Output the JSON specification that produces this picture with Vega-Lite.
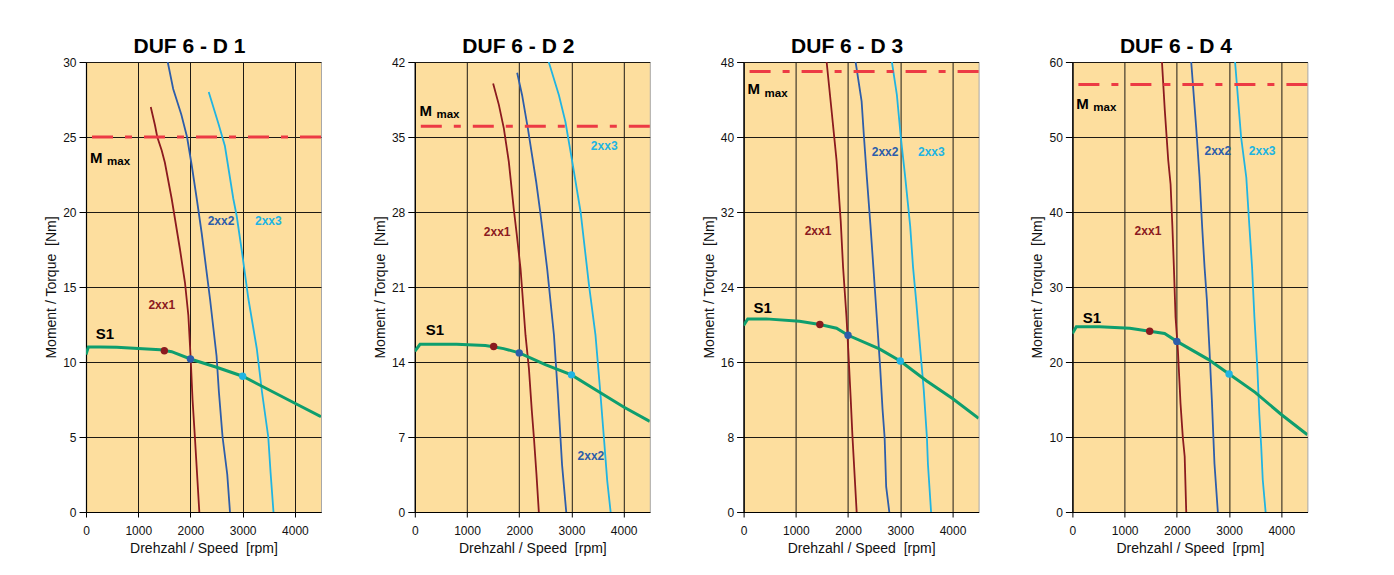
{
  "$schema": "https://vega.github.io/schema/vega-lite/v6.json",
  "padding": {"left": 44, "top": 35, "right": 10, "bottom": 10},
  "background": "white",
  "spacing": 49.8,
  "datasets": {
    "curves": [
      {"panel":"D1","series":"2xx1","rpm":1240,"torque":27},{"panel":"D1","series":"2xx1","rpm":1320,"torque":25.8},{"panel":"D1","series":"2xx1","rpm":1365,"torque":25},{"panel":"D1","series":"2xx1","rpm":1450,"torque":24.1},{"panel":"D1","series":"2xx1","rpm":1510,"torque":23.3},{"panel":"D1","series":"2xx1","rpm":1640,"torque":20.9},{"panel":"D1","series":"2xx1","rpm":1800,"torque":17.5},{"panel":"D1","series":"2xx1","rpm":1895,"torque":15.3},{"panel":"D1","series":"2xx1","rpm":1960,"torque":13.1},{"panel":"D1","series":"2xx1","rpm":2005,"torque":10.2},{"panel":"D1","series":"2xx1","rpm":2040,"torque":7.5},{"panel":"D1","series":"2xx1","rpm":2085,"torque":5},{"panel":"D1","series":"2xx1","rpm":2170,"torque":0},
      {"panel":"D1","series":"2xx2","rpm":1565,"torque":30},{"panel":"D1","series":"2xx2","rpm":1670,"torque":28.2},{"panel":"D1","series":"2xx2","rpm":1825,"torque":26.5},{"panel":"D1","series":"2xx2","rpm":1935,"torque":25},{"panel":"D1","series":"2xx2","rpm":2025,"torque":23.1},{"panel":"D1","series":"2xx2","rpm":2120,"torque":20.9},{"panel":"D1","series":"2xx2","rpm":2215,"torque":18.6},{"panel":"D1","series":"2xx2","rpm":2375,"torque":14.2},{"panel":"D1","series":"2xx2","rpm":2500,"torque":10.4},{"panel":"D1","series":"2xx2","rpm":2545,"torque":8},{"panel":"D1","series":"2xx2","rpm":2615,"torque":5},{"panel":"D1","series":"2xx2","rpm":2705,"torque":2.5},{"panel":"D1","series":"2xx2","rpm":2757,"torque":0},
      {"panel":"D1","series":"2xx3","rpm":2350,"torque":28},{"panel":"D1","series":"2xx3","rpm":2535,"torque":25.9},{"panel":"D1","series":"2xx3","rpm":2660,"torque":24.4},{"panel":"D1","series":"2xx3","rpm":2820,"torque":20.9},{"panel":"D1","series":"2xx3","rpm":2885,"torque":19.75},{"panel":"D1","series":"2xx3","rpm":2980,"torque":17.5},{"panel":"D1","series":"2xx3","rpm":3110,"torque":14.2},{"panel":"D1","series":"2xx3","rpm":3270,"torque":10.9},{"panel":"D1","series":"2xx3","rpm":3370,"torque":8},{"panel":"D1","series":"2xx3","rpm":3490,"torque":5},{"panel":"D1","series":"2xx3","rpm":3535,"torque":2.6},{"panel":"D1","series":"2xx3","rpm":3590,"torque":0},
      {"panel":"D1","series":"S1","rpm":0,"torque":10.5},{"panel":"D1","series":"S1","rpm":45,"torque":11},{"panel":"D1","series":"S1","rpm":270,"torque":11},{"panel":"D1","series":"S1","rpm":590,"torque":10.98},{"panel":"D1","series":"S1","rpm":1000,"torque":10.9},{"panel":"D1","series":"S1","rpm":1420,"torque":10.82},{"panel":"D1","series":"S1","rpm":1640,"torque":10.69},{"panel":"D1","series":"S1","rpm":2000,"torque":10.2},{"panel":"D1","series":"S1","rpm":2500,"torque":9.65},{"panel":"D1","series":"S1","rpm":3000,"torque":9.05},{"panel":"D1","series":"S1","rpm":3500,"torque":8.15},{"panel":"D1","series":"S1","rpm":4000,"torque":7.25},{"panel":"D1","series":"S1","rpm":4500,"torque":6.35},
      {"panel":"D2","series":"2xx1","rpm":1500,"torque":40},{"panel":"D2","series":"2xx1","rpm":1610,"torque":38},{"panel":"D2","series":"2xx1","rpm":1705,"torque":35.8},{"panel":"D2","series":"2xx1","rpm":1800,"torque":32.7},{"panel":"D2","series":"2xx1","rpm":1895,"torque":28.3},{"panel":"D2","series":"2xx1","rpm":1950,"torque":26},{"panel":"D2","series":"2xx1","rpm":2025,"torque":22.7},{"panel":"D2","series":"2xx1","rpm":2120,"torque":16.5},{"panel":"D2","series":"2xx1","rpm":2185,"torque":13.4},{"panel":"D2","series":"2xx1","rpm":2240,"torque":9.5},{"panel":"D2","series":"2xx1","rpm":2280,"torque":7},{"panel":"D2","series":"2xx1","rpm":2330,"torque":3.5},{"panel":"D2","series":"2xx1","rpm":2375,"torque":0},
      {"panel":"D2","series":"2xx2","rpm":1960,"torque":41},{"panel":"D2","series":"2xx2","rpm":2055,"torque":38.9},{"panel":"D2","series":"2xx2","rpm":2165,"torque":35.8},{"panel":"D2","series":"2xx2","rpm":2325,"torque":30.8},{"panel":"D2","series":"2xx2","rpm":2410,"torque":27.7},{"panel":"D2","series":"2xx2","rpm":2535,"torque":22.7},{"panel":"D2","series":"2xx2","rpm":2665,"torque":16.5},{"panel":"D2","series":"2xx2","rpm":2740,"torque":11},{"panel":"D2","series":"2xx2","rpm":2820,"torque":4.4},{"panel":"D2","series":"2xx2","rpm":2900,"torque":0},
      {"panel":"D2","series":"2xx3","rpm":2565,"torque":42},{"panel":"D2","series":"2xx3","rpm":2760,"torque":38.9},{"panel":"D2","series":"2xx3","rpm":2885,"torque":36.4},{"panel":"D2","series":"2xx3","rpm":3015,"torque":32.7},{"panel":"D2","series":"2xx3","rpm":3175,"torque":28},{"panel":"D2","series":"2xx3","rpm":3335,"torque":21.2},{"panel":"D2","series":"2xx3","rpm":3460,"torque":16.5},{"panel":"D2","series":"2xx3","rpm":3555,"torque":11},{"panel":"D2","series":"2xx3","rpm":3620,"torque":7},{"panel":"D2","series":"2xx3","rpm":3685,"torque":2.9},{"panel":"D2","series":"2xx3","rpm":3750,"torque":0},
      {"panel":"D2","series":"S1","rpm":0,"torque":15.0},{"panel":"D2","series":"S1","rpm":100,"torque":15.65},{"panel":"D2","series":"S1","rpm":800,"torque":15.65},{"panel":"D2","series":"S1","rpm":1350,"torque":15.53},{"panel":"D2","series":"S1","rpm":1500,"torque":15.42},{"panel":"D2","series":"S1","rpm":1700,"torque":15.25},{"panel":"D2","series":"S1","rpm":2000,"torque":14.85},{"panel":"D2","series":"S1","rpm":2500,"torque":13.75},{"panel":"D2","series":"S1","rpm":3000,"torque":12.8},{"panel":"D2","series":"S1","rpm":3500,"torque":11.3},{"panel":"D2","series":"S1","rpm":4000,"torque":9.8},{"panel":"D2","series":"S1","rpm":4500,"torque":8.45},
      {"panel":"D3","series":"2xx1","rpm":1590,"torque":48},{"panel":"D3","series":"2xx1","rpm":1685,"torque":42.8},{"panel":"D3","series":"2xx1","rpm":1780,"torque":37.5},{"panel":"D3","series":"2xx1","rpm":1860,"torque":31},{"panel":"D3","series":"2xx1","rpm":1905,"torque":26.1},{"panel":"D3","series":"2xx1","rpm":1970,"torque":20.8},{"panel":"D3","series":"2xx1","rpm":2005,"torque":17.2},{"panel":"D3","series":"2xx1","rpm":2050,"torque":12.2},{"panel":"D3","series":"2xx1","rpm":2085,"torque":8},{"panel":"D3","series":"2xx1","rpm":2165,"torque":0},
      {"panel":"D3","series":"2xx2","rpm":2145,"torque":48},{"panel":"D3","series":"2xx2","rpm":2260,"torque":43.8},{"panel":"D3","series":"2xx2","rpm":2305,"torque":40},{"panel":"D3","series":"2xx2","rpm":2360,"torque":35.7},{"panel":"D3","series":"2xx2","rpm":2430,"torque":30.5},{"panel":"D3","series":"2xx2","rpm":2485,"torque":26.1},{"panel":"D3","series":"2xx2","rpm":2550,"torque":20.8},{"panel":"D3","series":"2xx2","rpm":2615,"torque":15.4},{"panel":"D3","series":"2xx2","rpm":2660,"torque":11},{"panel":"D3","series":"2xx2","rpm":2700,"torque":8},{"panel":"D3","series":"2xx2","rpm":2730,"torque":2.7},{"panel":"D3","series":"2xx2","rpm":2790,"torque":0},
      {"panel":"D3","series":"2xx3","rpm":2840,"torque":48},{"panel":"D3","series":"2xx3","rpm":2935,"torque":44.5},{"panel":"D3","series":"2xx3","rpm":3010,"torque":40},{"panel":"D3","series":"2xx3","rpm":3095,"torque":35.7},{"panel":"D3","series":"2xx3","rpm":3190,"torque":30.5},{"panel":"D3","series":"2xx3","rpm":3245,"torque":26.1},{"panel":"D3","series":"2xx3","rpm":3305,"torque":22.5},{"panel":"D3","series":"2xx3","rpm":3385,"torque":17.2},{"panel":"D3","series":"2xx3","rpm":3450,"torque":13},{"panel":"D3","series":"2xx3","rpm":3510,"torque":8},{"panel":"D3","series":"2xx3","rpm":3530,"torque":5.1},{"panel":"D3","series":"2xx3","rpm":3590,"torque":0},
      {"panel":"D3","series":"S1","rpm":0,"torque":19.9},{"panel":"D3","series":"S1","rpm":80,"torque":20.6},{"panel":"D3","series":"S1","rpm":430,"torque":20.6},{"panel":"D3","series":"S1","rpm":1070,"torque":20.35},{"panel":"D3","series":"S1","rpm":1460,"torque":20.0},{"panel":"D3","series":"S1","rpm":1780,"torque":19.6},{"panel":"D3","series":"S1","rpm":2000,"torque":18.85},{"panel":"D3","series":"S1","rpm":2600,"torque":17.4},{"panel":"D3","series":"S1","rpm":3000,"torque":16.1},{"panel":"D3","series":"S1","rpm":3500,"torque":14.0},{"panel":"D3","series":"S1","rpm":4000,"torque":12.1},{"panel":"D3","series":"S1","rpm":4500,"torque":10.0},
      {"panel":"D4","series":"2xx1","rpm":1715,"torque":60},{"panel":"D4","series":"2xx1","rpm":1770,"torque":53.5},{"panel":"D4","series":"2xx1","rpm":1835,"torque":46.9},{"panel":"D4","series":"2xx1","rpm":1880,"torque":43.7},{"panel":"D4","series":"2xx1","rpm":1915,"torque":38},{"panel":"D4","series":"2xx1","rpm":1943,"torque":32.7},{"panel":"D4","series":"2xx1","rpm":1975,"torque":26},{"panel":"D4","series":"2xx1","rpm":2020,"torque":21.6},{"panel":"D4","series":"2xx1","rpm":2070,"torque":14.5},{"panel":"D4","series":"2xx1","rpm":2115,"torque":9.9},{"panel":"D4","series":"2xx1","rpm":2150,"torque":7.4},{"panel":"D4","series":"2xx1","rpm":2180,"torque":0},
      {"panel":"D4","series":"2xx2","rpm":2275,"torque":60},{"panel":"D4","series":"2xx2","rpm":2370,"torque":51.3},{"panel":"D4","series":"2xx2","rpm":2435,"torque":44.6},{"panel":"D4","series":"2xx2","rpm":2485,"torque":38},{"panel":"D4","series":"2xx2","rpm":2530,"torque":32.7},{"panel":"D4","series":"2xx2","rpm":2575,"torque":28.3},{"panel":"D4","series":"2xx2","rpm":2625,"torque":21.6},{"panel":"D4","series":"2xx2","rpm":2670,"torque":15},{"panel":"D4","series":"2xx2","rpm":2720,"torque":6.5},{"panel":"D4","series":"2xx2","rpm":2785,"torque":0},
      {"panel":"D4","series":"2xx3","rpm":3115,"torque":60},{"panel":"D4","series":"2xx3","rpm":3230,"torque":50},{"panel":"D4","series":"2xx3","rpm":3330,"torque":44.6},{"panel":"D4","series":"2xx3","rpm":3390,"torque":38},{"panel":"D4","series":"2xx3","rpm":3440,"torque":32.7},{"panel":"D4","series":"2xx3","rpm":3485,"torque":26},{"panel":"D4","series":"2xx3","rpm":3540,"torque":19.4},{"panel":"D4","series":"2xx3","rpm":3580,"torque":13},{"panel":"D4","series":"2xx3","rpm":3615,"torque":8.8},{"panel":"D4","series":"2xx3","rpm":3645,"torque":4.3},{"panel":"D4","series":"2xx3","rpm":3700,"torque":0},
      {"panel":"D4","series":"S1","rpm":0,"torque":23.8},{"panel":"D4","series":"S1","rpm":75,"torque":24.7},{"panel":"D4","series":"S1","rpm":520,"torque":24.7},{"panel":"D4","series":"S1","rpm":1100,"torque":24.5},{"panel":"D4","series":"S1","rpm":1480,"torque":24.1},{"panel":"D4","series":"S1","rpm":1765,"torque":23.8},{"panel":"D4","series":"S1","rpm":2000,"torque":22.75},{"panel":"D4","series":"S1","rpm":2600,"torque":20.35},{"panel":"D4","series":"S1","rpm":3000,"torque":18.4},{"panel":"D4","series":"S1","rpm":3500,"torque":15.95},{"panel":"D4","series":"S1","rpm":4000,"torque":13},{"panel":"D4","series":"S1","rpm":4500,"torque":10.3}
    ],
    "points": [
      {"panel":"D1","series":"2xx1","rpm":1500,"torque":10.75},{"panel":"D1","series":"2xx2","rpm":2000,"torque":10.2},{"panel":"D1","series":"2xx3","rpm":3000,"torque":9.05},
      {"panel":"D2","series":"2xx1","rpm":1510,"torque":15.45},{"panel":"D2","series":"2xx2","rpm":2000,"torque":14.85},{"panel":"D2","series":"2xx3","rpm":3000,"torque":12.8},
      {"panel":"D3","series":"2xx1","rpm":1460,"torque":20.0},{"panel":"D3","series":"2xx2","rpm":2000,"torque":18.85},{"panel":"D3","series":"2xx3","rpm":3000,"torque":16.1},
      {"panel":"D4","series":"2xx1","rpm":1480,"torque":24.1},{"panel":"D4","series":"2xx2","rpm":2000,"torque":22.75},{"panel":"D4","series":"2xx3","rpm":3000,"torque":18.4}
    ],
    "mmax": [
      {"panel":"D1","torque":25},{"panel":"D2","torque":36},{"panel":"D3","torque":47},{"panel":"D4","torque":57}
    ],
    "labels": [
      {"panel":"D1","series":"2xx1","rpm":1450,"torque":13.8},{"panel":"D1","series":"2xx2","rpm":2585,"torque":19.4},{"panel":"D1","series":"2xx3","rpm":3491,"torque":19.4},
      {"panel":"D2","series":"2xx1","rpm":1577,"torque":26.15},{"panel":"D2","series":"2xx2","rpm":3372,"torque":5.2},{"panel":"D2","series":"2xx3","rpm":3627,"torque":34.2},
      {"panel":"D3","series":"2xx1","rpm":1425,"torque":30},{"panel":"D3","series":"2xx2","rpm":2709,"torque":38.45},{"panel":"D3","series":"2xx3","rpm":3595,"torque":38.45},
      {"panel":"D4","series":"2xx1","rpm":1447,"torque":37.5},{"panel":"D4","series":"2xx2","rpm":2785,"torque":48.1},{"panel":"D4","series":"2xx3","rpm":3634,"torque":48.1}
    ],
    "s1label": [
      {"panel":"D1","rpm":364,"torque":11.9},{"panel":"D2","rpm":383,"torque":17},{"panel":"D3","rpm":366,"torque":21.75},{"panel":"D4","rpm":376,"torque":25.9}
    ],
    "mlabel": [
      {"panel":"D1","rpm":77,"torque":23.27},{"panel":"D2","rpm":90,"torque":36.97},{"panel":"D3","rpm":77,"torque":44.55},{"panel":"D4","rpm":76,"torque":53.8}
    ]
  },
  "hconcat": [
    {
      "width": 235, "height": 450, "title": "DUF 6 - D 1",
      "encoding": {"y": {"field": "torque", "type": "quantitative", "title": "Moment / Torque \u00a0[Nm]", "scale": {"domain": [0, 30], "nice": false, "zero": false}, "axis": {"values": [0, 5, 10, 15, 20, 25, 30]}}},
      "layer": [
        {"data": {"name": "curves"}, "transform": [{"filter": "datum.panel === 'D1' && datum.series !== 'S1'"}], "mark": {"type": "line", "strokeWidth": 1.8, "clip": true}, "encoding": {"x": {"field": "rpm", "type": "quantitative", "title": "Drehzahl / Speed \u00a0[rpm]", "scale": {"domain": [0, 4500], "nice": false, "zero": false}, "axis": {"values": [0, 1000, 2000, 3000, 4000], "format": "d"}}, "color": {"field": "series", "type": "nominal", "scale": {"domain": ["2xx1", "2xx2", "2xx3", "S1"], "range": ["#8B1A1F", "#2D5DAA", "#20B4E2", "#0E9E6E"]}, "legend": null}}},
        {"data": {"name": "mmax"}, "transform": [{"filter": "datum.panel === 'D1'"}], "mark": {"type": "rule", "color": "#EC3A44", "strokeWidth": 3, "strokeDash": [21, 12, 7, 12]}},
        {"data": {"name": "curves"}, "transform": [{"filter": "datum.panel === 'D1' && datum.series === 'S1'"}], "mark": {"type": "line", "strokeWidth": 3, "color": "#0E9E6E", "clip": true}, "encoding": {"x": {"field": "rpm", "type": "quantitative", "title": "Drehzahl / Speed \u00a0[rpm]"}}},
        {"data": {"name": "points"}, "transform": [{"filter": "datum.panel === 'D1'"}], "mark": {"type": "circle", "size": 55, "opacity": 1}, "encoding": {"x": {"field": "rpm", "type": "quantitative", "title": "Drehzahl / Speed \u00a0[rpm]"}, "color": {"field": "series", "type": "nominal", "legend": null}}},
        {"data": {"name": "labels"}, "transform": [{"filter": "datum.panel === 'D1'"}], "mark": {"type": "text", "fontSize": 12, "fontWeight": "bold", "align": "center", "baseline": "middle"}, "encoding": {"x": {"field": "rpm", "type": "quantitative", "title": "Drehzahl / Speed \u00a0[rpm]"}, "text": {"field": "series"}, "color": {"field": "series", "type": "nominal", "legend": null}}},
        {"data": {"name": "s1label"}, "transform": [{"filter": "datum.panel === 'D1'"}], "mark": {"type": "text", "text": "S1", "fontSize": 15, "fontWeight": "bold", "align": "center", "baseline": "middle", "color": "#000"}, "encoding": {"x": {"field": "rpm", "type": "quantitative", "title": "Drehzahl / Speed \u00a0[rpm]"}}},
        {"data": {"name": "mlabel"}, "transform": [{"filter": "datum.panel === 'D1'"}], "mark": {"type": "text", "text": "M", "fontSize": 15, "fontWeight": "bold", "align": "left", "baseline": "alphabetic", "color": "#000"}, "encoding": {"x": {"field": "rpm", "type": "quantitative", "title": "Drehzahl / Speed \u00a0[rpm]"}}},
        {"data": {"name": "mlabel"}, "transform": [{"filter": "datum.panel === 'D1'"}], "mark": {"type": "text", "text": "max", "fontSize": 11.5, "fontWeight": "bold", "align": "left", "baseline": "alphabetic", "dx": 17, "dy": 2.5, "color": "#000"}, "encoding": {"x": {"field": "rpm", "type": "quantitative", "title": "Drehzahl / Speed \u00a0[rpm]"}}}
      ]
    },
    {
      "width": 235, "height": 450, "title": "DUF 6 - D 2",
      "encoding": {"y": {"field": "torque", "type": "quantitative", "title": "Moment / Torque \u00a0[Nm]", "scale": {"domain": [0, 42], "nice": false, "zero": false}, "axis": {"values": [0, 7, 14, 21, 28, 35, 42]}}},
      "layer": [
        {"data": {"name": "curves"}, "transform": [{"filter": "datum.panel === 'D2' && datum.series !== 'S1'"}], "mark": {"type": "line", "strokeWidth": 1.8, "clip": true}, "encoding": {"x": {"field": "rpm", "type": "quantitative", "title": "Drehzahl / Speed \u00a0[rpm]", "scale": {"domain": [0, 4500], "nice": false, "zero": false}, "axis": {"values": [0, 1000, 2000, 3000, 4000], "format": "d"}}, "color": {"field": "series", "type": "nominal", "legend": null}}},
        {"data": {"name": "mmax"}, "transform": [{"filter": "datum.panel === 'D2'"}], "mark": {"type": "rule", "color": "#EC3A44", "strokeWidth": 3, "strokeDash": [21, 12, 7, 12]}},
        {"data": {"name": "curves"}, "transform": [{"filter": "datum.panel === 'D2' && datum.series === 'S1'"}], "mark": {"type": "line", "strokeWidth": 3, "color": "#0E9E6E", "clip": true}, "encoding": {"x": {"field": "rpm", "type": "quantitative", "title": "Drehzahl / Speed \u00a0[rpm]"}}},
        {"data": {"name": "points"}, "transform": [{"filter": "datum.panel === 'D2'"}], "mark": {"type": "circle", "size": 55, "opacity": 1}, "encoding": {"x": {"field": "rpm", "type": "quantitative", "title": "Drehzahl / Speed \u00a0[rpm]"}, "color": {"field": "series", "type": "nominal", "legend": null}}},
        {"data": {"name": "labels"}, "transform": [{"filter": "datum.panel === 'D2'"}], "mark": {"type": "text", "fontSize": 12, "fontWeight": "bold", "align": "center", "baseline": "middle"}, "encoding": {"x": {"field": "rpm", "type": "quantitative", "title": "Drehzahl / Speed \u00a0[rpm]"}, "text": {"field": "series"}, "color": {"field": "series", "type": "nominal", "legend": null}}},
        {"data": {"name": "s1label"}, "transform": [{"filter": "datum.panel === 'D2'"}], "mark": {"type": "text", "text": "S1", "fontSize": 15, "fontWeight": "bold", "align": "center", "baseline": "middle", "color": "#000"}, "encoding": {"x": {"field": "rpm", "type": "quantitative", "title": "Drehzahl / Speed \u00a0[rpm]"}}},
        {"data": {"name": "mlabel"}, "transform": [{"filter": "datum.panel === 'D2'"}], "mark": {"type": "text", "text": "M", "fontSize": 15, "fontWeight": "bold", "align": "left", "baseline": "alphabetic", "color": "#000"}, "encoding": {"x": {"field": "rpm", "type": "quantitative", "title": "Drehzahl / Speed \u00a0[rpm]"}}},
        {"data": {"name": "mlabel"}, "transform": [{"filter": "datum.panel === 'D2'"}], "mark": {"type": "text", "text": "max", "fontSize": 11.5, "fontWeight": "bold", "align": "left", "baseline": "alphabetic", "dx": 17, "dy": 2.5, "color": "#000"}, "encoding": {"x": {"field": "rpm", "type": "quantitative", "title": "Drehzahl / Speed \u00a0[rpm]"}}}
      ]
    },
    {
      "width": 235, "height": 450, "title": "DUF 6 - D 3",
      "encoding": {"y": {"field": "torque", "type": "quantitative", "title": "Moment / Torque \u00a0[Nm]", "scale": {"domain": [0, 48], "nice": false, "zero": false}, "axis": {"values": [0, 8, 16, 24, 32, 40, 48]}}},
      "layer": [
        {"data": {"name": "curves"}, "transform": [{"filter": "datum.panel === 'D3' && datum.series !== 'S1'"}], "mark": {"type": "line", "strokeWidth": 1.8, "clip": true}, "encoding": {"x": {"field": "rpm", "type": "quantitative", "title": "Drehzahl / Speed \u00a0[rpm]", "scale": {"domain": [0, 4500], "nice": false, "zero": false}, "axis": {"values": [0, 1000, 2000, 3000, 4000], "format": "d"}}, "color": {"field": "series", "type": "nominal", "legend": null}}},
        {"data": {"name": "mmax"}, "transform": [{"filter": "datum.panel === 'D3'"}], "mark": {"type": "rule", "color": "#EC3A44", "strokeWidth": 3, "strokeDash": [21, 12, 7, 12]}},
        {"data": {"name": "curves"}, "transform": [{"filter": "datum.panel === 'D3' && datum.series === 'S1'"}], "mark": {"type": "line", "strokeWidth": 3, "color": "#0E9E6E", "clip": true}, "encoding": {"x": {"field": "rpm", "type": "quantitative", "title": "Drehzahl / Speed \u00a0[rpm]"}}},
        {"data": {"name": "points"}, "transform": [{"filter": "datum.panel === 'D3'"}], "mark": {"type": "circle", "size": 55, "opacity": 1}, "encoding": {"x": {"field": "rpm", "type": "quantitative", "title": "Drehzahl / Speed \u00a0[rpm]"}, "color": {"field": "series", "type": "nominal", "legend": null}}},
        {"data": {"name": "labels"}, "transform": [{"filter": "datum.panel === 'D3'"}], "mark": {"type": "text", "fontSize": 12, "fontWeight": "bold", "align": "center", "baseline": "middle"}, "encoding": {"x": {"field": "rpm", "type": "quantitative", "title": "Drehzahl / Speed \u00a0[rpm]"}, "text": {"field": "series"}, "color": {"field": "series", "type": "nominal", "legend": null}}},
        {"data": {"name": "s1label"}, "transform": [{"filter": "datum.panel === 'D3'"}], "mark": {"type": "text", "text": "S1", "fontSize": 15, "fontWeight": "bold", "align": "center", "baseline": "middle", "color": "#000"}, "encoding": {"x": {"field": "rpm", "type": "quantitative", "title": "Drehzahl / Speed \u00a0[rpm]"}}},
        {"data": {"name": "mlabel"}, "transform": [{"filter": "datum.panel === 'D3'"}], "mark": {"type": "text", "text": "M", "fontSize": 15, "fontWeight": "bold", "align": "left", "baseline": "alphabetic", "color": "#000"}, "encoding": {"x": {"field": "rpm", "type": "quantitative", "title": "Drehzahl / Speed \u00a0[rpm]"}}},
        {"data": {"name": "mlabel"}, "transform": [{"filter": "datum.panel === 'D3'"}], "mark": {"type": "text", "text": "max", "fontSize": 11.5, "fontWeight": "bold", "align": "left", "baseline": "alphabetic", "dx": 17, "dy": 2.5, "color": "#000"}, "encoding": {"x": {"field": "rpm", "type": "quantitative", "title": "Drehzahl / Speed \u00a0[rpm]"}}}
      ]
    },
    {
      "width": 235, "height": 450, "title": "DUF 6 - D 4",
      "encoding": {"y": {"field": "torque", "type": "quantitative", "title": "Moment / Torque \u00a0[Nm]", "scale": {"domain": [0, 60], "nice": false, "zero": false}, "axis": {"values": [0, 10, 20, 30, 40, 50, 60]}}},
      "layer": [
        {"data": {"name": "curves"}, "transform": [{"filter": "datum.panel === 'D4' && datum.series !== 'S1'"}], "mark": {"type": "line", "strokeWidth": 1.8, "clip": true}, "encoding": {"x": {"field": "rpm", "type": "quantitative", "title": "Drehzahl / Speed \u00a0[rpm]", "scale": {"domain": [0, 4500], "nice": false, "zero": false}, "axis": {"values": [0, 1000, 2000, 3000, 4000], "format": "d"}}, "color": {"field": "series", "type": "nominal", "legend": null}}},
        {"data": {"name": "mmax"}, "transform": [{"filter": "datum.panel === 'D4'"}], "mark": {"type": "rule", "color": "#EC3A44", "strokeWidth": 3, "strokeDash": [21, 12, 7, 12]}},
        {"data": {"name": "curves"}, "transform": [{"filter": "datum.panel === 'D4' && datum.series === 'S1'"}], "mark": {"type": "line", "strokeWidth": 3, "color": "#0E9E6E", "clip": true}, "encoding": {"x": {"field": "rpm", "type": "quantitative", "title": "Drehzahl / Speed \u00a0[rpm]"}}},
        {"data": {"name": "points"}, "transform": [{"filter": "datum.panel === 'D4'"}], "mark": {"type": "circle", "size": 55, "opacity": 1}, "encoding": {"x": {"field": "rpm", "type": "quantitative", "title": "Drehzahl / Speed \u00a0[rpm]"}, "color": {"field": "series", "type": "nominal", "legend": null}}},
        {"data": {"name": "labels"}, "transform": [{"filter": "datum.panel === 'D4'"}], "mark": {"type": "text", "fontSize": 12, "fontWeight": "bold", "align": "center", "baseline": "middle"}, "encoding": {"x": {"field": "rpm", "type": "quantitative", "title": "Drehzahl / Speed \u00a0[rpm]"}, "text": {"field": "series"}, "color": {"field": "series", "type": "nominal", "legend": null}}},
        {"data": {"name": "s1label"}, "transform": [{"filter": "datum.panel === 'D4'"}], "mark": {"type": "text", "text": "S1", "fontSize": 15, "fontWeight": "bold", "align": "center", "baseline": "middle", "color": "#000"}, "encoding": {"x": {"field": "rpm", "type": "quantitative", "title": "Drehzahl / Speed \u00a0[rpm]"}}},
        {"data": {"name": "mlabel"}, "transform": [{"filter": "datum.panel === 'D4'"}], "mark": {"type": "text", "text": "M", "fontSize": 15, "fontWeight": "bold", "align": "left", "baseline": "alphabetic", "color": "#000"}, "encoding": {"x": {"field": "rpm", "type": "quantitative", "title": "Drehzahl / Speed \u00a0[rpm]"}}},
        {"data": {"name": "mlabel"}, "transform": [{"filter": "datum.panel === 'D4'"}], "mark": {"type": "text", "text": "max", "fontSize": 11.5, "fontWeight": "bold", "align": "left", "baseline": "alphabetic", "dx": 17, "dy": 2.5, "color": "#000"}, "encoding": {"x": {"field": "rpm", "type": "quantitative", "title": "Drehzahl / Speed \u00a0[rpm]"}}}
      ]
    }
  ],
  "resolve": {"scale": {"x": "independent", "y": "independent"}},
  "config": {
    "font": "Liberation Sans",
    "view": {"fill": "#FDDE9E", "stroke": "#a8a8a8", "strokeWidth": 1},
    "axis": {
      "grid": true, "gridColor": "#1e1a14", "gridWidth": 1, "gridOpacity": 1,
      "domainColor": "#000", "domainWidth": 1.2, "tickColor": "#000", "tickWidth": 1,
      "labelColor": "#111", "titleColor": "#111", "labelFont": "Liberation Sans", "titleFont": "Liberation Sans",
      "titleFontWeight": "normal", "labelFontSize": 12, "titleFontSize": 14,
      "labelFlush": false, "labelOverlap": false
    },
    "axisX": {"tickSize": 5, "labelPadding": 8, "titlePadding": 5},
    "axisY": {"tickSize": 7, "labelPadding": 3, "minExtent": 24, "maxExtent": 24, "titlePadding": 3.5},
    "title": {"fontSize": 21, "fontWeight": "bold", "font": "Liberation Sans", "anchor": "middle", "frame": "group", "dx": -14, "offset": -1, "baseline": "alphabetic", "color": "#000"}
  }
}
